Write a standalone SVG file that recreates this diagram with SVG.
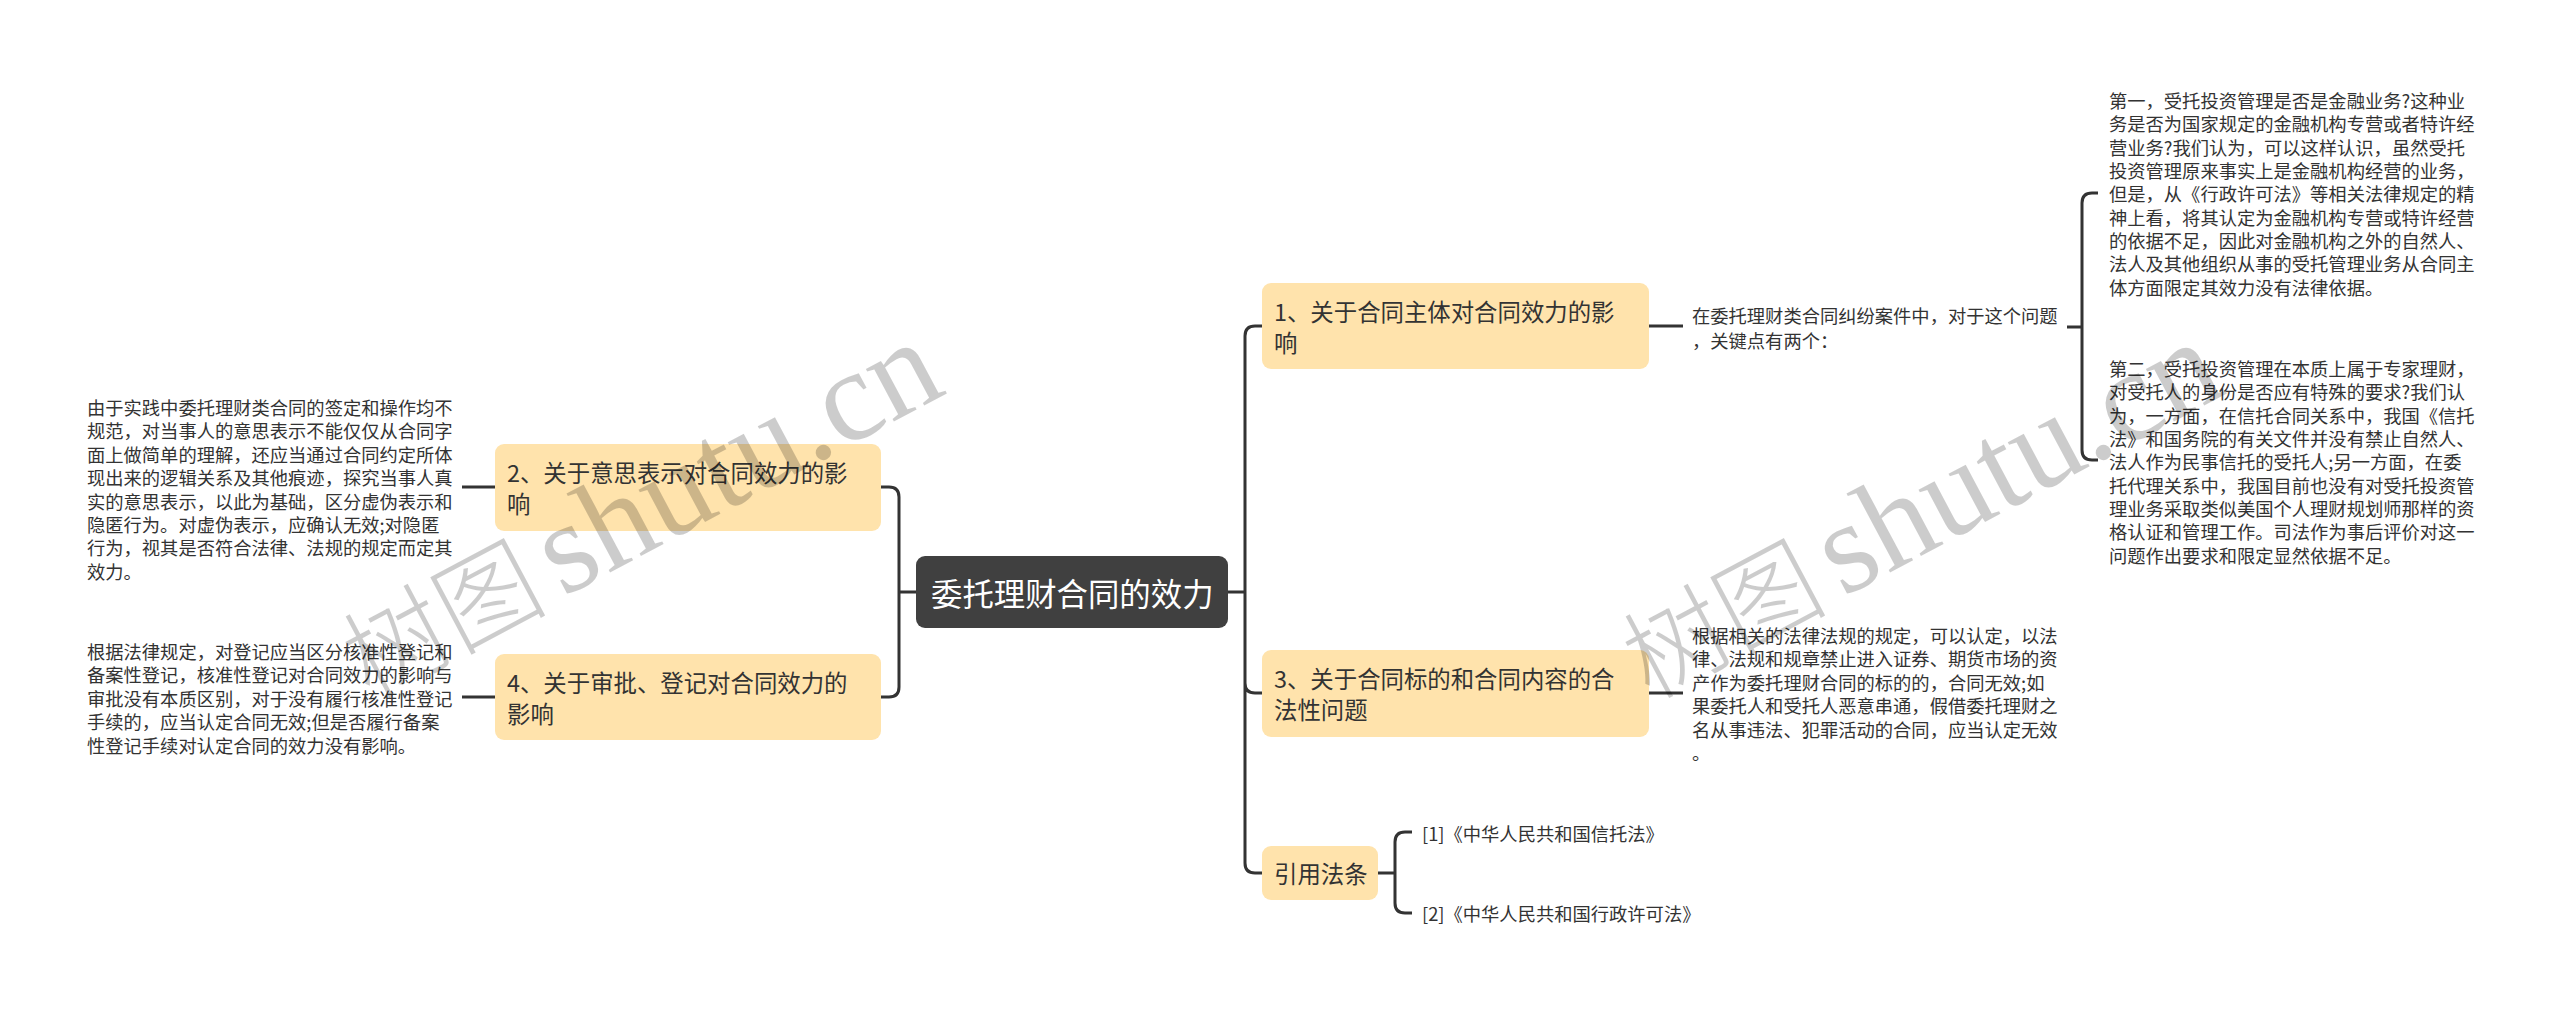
<svg xmlns="http://www.w3.org/2000/svg" width="2560" height="1012" viewBox="0 0 2560 1012">
<style>
text{font-family:"Noto Sans CJK SC","Liberation Sans",sans-serif;dominant-baseline:central}
.s{font-size:18.3px;fill:#333}
.m{font-size:23.4px;fill:#333}
.b{fill:#ffe3ac}
.c{fill:none;stroke:#333;stroke-width:3}
.w{font-family:"Liberation Serif","Noto Sans CJK SC",serif;font-size:130px;fill:#000;fill-opacity:.2;dominant-baseline:alphabetic}
.wc{font-family:"Noto Sans CJK SC",serif;font-size:102px;font-weight:300}
</style>
<rect width="2560" height="1012" fill="#fff"/>
<g id="connectors">
<path class="c" d="M916 592H899M899 497V687M881 487H889Q899 487 899 497M881 697H889Q899 697 899 687"/>
<path class="c" d="M462 487H495M462 697H495"/>
<path class="c" d="M1228 592H1245M1245 336V863M1262 326H1255Q1245 326 1245 336M1262 693H1255Q1245 693 1245 683M1262 873H1255Q1245 873 1245 863"/>
<path class="c" d="M1649 326H1683M1649 693H1683"/>
<path class="c" d="M2067 327H2082M2098 193H2092Q2082 193 2082 203V450Q2082 460 2092 460H2098"/>
<path class="c" d="M1378 873H1395M1412 832H1405Q1395 832 1395 842V903Q1395 913 1405 913H1412"/>
</g>
<g id="root"><rect x="916" y="556" width="312" height="72" rx="9" fill="#404040"/><text x="931" y="592" font-size="31.4" fill="#fff">委托理财合同的效力</text></g>
<g id="n1"><rect class="b" x="1262" y="283" width="387" height="86" rx="9"/><text class="m" x="1274" y="311">1、关于合同主体对合同效力的影</text><text class="m" x="1274" y="342">响</text></g>
<g id="n2"><rect class="b" x="495" y="444" width="386" height="87" rx="9"/><text class="m" x="507" y="472">2、关于意思表示对合同效力的影</text><text class="m" x="507" y="503">响</text></g>
<g id="n3"><rect class="b" x="1262" y="650" width="387" height="87" rx="9"/><text class="m" x="1274" y="678">3、关于合同标的和合同内容的合</text><text class="m" x="1274" y="709">法性问题</text></g>
<g id="n4"><rect class="b" x="495" y="654" width="386" height="86" rx="9"/><text class="m" x="507" y="682">4、关于审批、登记对合同效力的</text><text class="m" x="507" y="713">影响</text></g>
<g id="n5"><rect class="b" x="1262" y="846" width="116" height="54" rx="9"/><text class="m" x="1274" y="873">引用法条</text></g>
<g id="t1">
<text class="s" x="1692" y="315">在委托理财类合同纠纷案件中，对于这个问题</text>
<text class="s" x="1692" y="340">，关键点有两个：</text>
</g>
<g id="t2">
<text class="s" x="2109" y="100">第一，受托投资管理是否是金融业务?这种业</text>
<text class="s" x="2109" y="123.3">务是否为国家规定的金融机构专营或者特许经</text>
<text class="s" x="2109" y="146.7">营业务?我们认为，可以这样认识，虽然受托</text>
<text class="s" x="2109" y="170">投资管理原来事实上是金融机构经营的业务，</text>
<text class="s" x="2109" y="193.3">但是，从《行政许可法》等相关法律规定的精</text>
<text class="s" x="2109" y="216.7">神上看，将其认定为金融机构专营或特许经营</text>
<text class="s" x="2109" y="240">的依据不足，因此对金融机构之外的自然人、</text>
<text class="s" x="2109" y="263.3">法人及其他组织从事的受托管理业务从合同主</text>
<text class="s" x="2109" y="286.7">体方面限定其效力没有法律依据。</text>
</g>
<g id="t3">
<text class="s" x="2109" y="368">第二，受托投资管理在本质上属于专家理财，</text>
<text class="s" x="2109" y="391.3">对受托人的身份是否应有特殊的要求?我们认</text>
<text class="s" x="2109" y="414.7">为，一方面，在信托合同关系中，我国《信托</text>
<text class="s" x="2109" y="438">法》和国务院的有关文件并没有禁止自然人、</text>
<text class="s" x="2109" y="461.3">法人作为民事信托的受托人;另一方面，在委</text>
<text class="s" x="2109" y="484.7">托代理关系中，我国目前也没有对受托投资管</text>
<text class="s" x="2109" y="508">理业务采取类似美国个人理财规划师那样的资</text>
<text class="s" x="2109" y="531.3">格认证和管理工作。司法作为事后评价对这一</text>
<text class="s" x="2109" y="554.7">问题作出要求和限定显然依据不足。</text>
</g>
<g id="t4">
<text class="s" x="1692" y="635">根据相关的法律法规的规定，可以认定，以法</text>
<text class="s" x="1692" y="658.4">律、法规和规章禁止进入证券、期货市场的资</text>
<text class="s" x="1692" y="681.8">产作为委托理财合同的标的的，合同无效;如</text>
<text class="s" x="1692" y="705.2">果委托人和受托人恶意串通，假借委托理财之</text>
<text class="s" x="1692" y="728.6">名从事违法、犯罪活动的合同，应当认定无效</text>
<text class="s" x="1692" y="752">。</text>
</g>
<g id="t5">
<text class="s" x="87" y="407">由于实践中委托理财类合同的签定和操作均不</text>
<text class="s" x="87" y="430.4">规范，对当事人的意思表示不能仅仅从合同字</text>
<text class="s" x="87" y="453.8">面上做简单的理解，还应当通过合同约定所体</text>
<text class="s" x="87" y="477.2">现出来的逻辑关系及其他痕迹，探究当事人真</text>
<text class="s" x="87" y="500.6">实的意思表示，以此为基础，区分虚伪表示和</text>
<text class="s" x="87" y="524">隐匿行为。对虚伪表示，应确认无效;对隐匿</text>
<text class="s" x="87" y="547.4">行为，视其是否符合法律、法规的规定而定其</text>
<text class="s" x="87" y="570.8">效力。</text>
</g>
<g id="t6">
<text class="s" x="87" y="651">根据法律规定，对登记应当区分核准性登记和</text>
<text class="s" x="87" y="674.4">备案性登记，核准性登记对合同效力的影响与</text>
<text class="s" x="87" y="697.8">审批没有本质区别，对于没有履行核准性登记</text>
<text class="s" x="87" y="721.2">手续的，应当认定合同无效;但是否履行备案</text>
<text class="s" x="87" y="744.6">性登记手续对认定合同的效力没有影响。</text>
</g>
<g id="r1"><text class="s" x="1422" y="833">[1]《中华人民共和国信托法》</text></g>
<g id="r2"><text class="s" x="1422" y="913">[2]《中华人民共和国行政许可法》</text></g>
<g id="watermarks">
<text class="w" transform="translate(359,706) rotate(-28)"><tspan class="wc" x="12">树图</tspan><tspan x="231">shutu.cn</tspan></text>
<text class="w" transform="translate(1639,706) rotate(-28)"><tspan class="wc" x="12">树图</tspan><tspan x="231">shutu.cn</tspan></text>
</g>
</svg>
